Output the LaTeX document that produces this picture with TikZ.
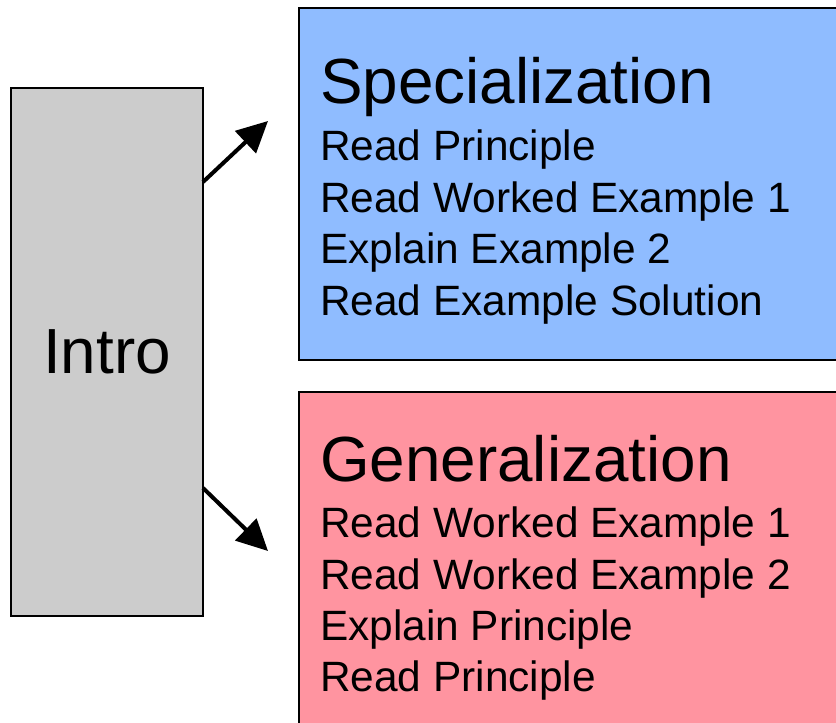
\documentclass[tikz,border=0pt]{standalone}
\usepackage{fontspec}
\setmainfont{Liberation Sans}
\usetikzlibrary{arrows.meta,calc}
\definecolor{specblue}{RGB}{143,188,255}
\definecolor{genred}{RGB}{255,148,160}
\definecolor{introgray}{RGB}{204,204,204}
\begin{document}
\begin{tikzpicture}[x=1pt,y=-1pt,
  box/.style={draw=black, line width=1.5pt, inner sep=0pt, outer sep=0pt, anchor=north west},
  title/.style={anchor=base west, inner sep=0pt, font=\fontsize{63.8}{63.8}\selectfont},
  item/.style={anchor=base west, inner sep=0pt, font=\fontsize{42.4}{42.4}\selectfont},
  link/.style={line width=4pt, -{Triangle[length=31pt,width=30pt]}}]
\useasboundingbox (0,0) rectangle (836,723);
\clip (0,0) rectangle (836,723);
\node[box, fill=introgray, minimum width=192pt, minimum height=528pt] (intro) at (11,88) {};
\node[box, fill=specblue, minimum width=560pt, minimum height=352pt] (specbox) at (299,8) {};
\node[box, fill=genred, minimum width=560pt, minimum height=380pt] (genbox) at (299,392) {};
\node[inner sep=0pt, font=\fontsize{63.8}{63.8}\selectfont] (introlabel) at (intro.center) {Intro};
\node[title] (spec) at (320,103) {Specialization};
\node[item] (s1) at (320,160) {Read Principle};
\node[item] (s2) at (320,212) {Read Worked Example 1};
\node[item] (s3) at (320,263) {Explain Example 2};
\node[item] (s4) at (320,315) {Read Example Solution};
\node[title] (gen) at (320,481) {Generalization};
\node[item] (g1) at (320,537) {Read Worked Example 1};
\node[item] (g2) at (320,589) {Read Worked Example 2};
\node[item] (g3) at (320,640) {Explain Principle};
\node[item] (g4) at (320,691) {Read Principle};
\coordinate (tip1) at (268,121);
\coordinate (tip2) at (268,551);
\draw[link] ($(intro.east)+(0,-170)$) -- (tip1);
\draw[link] ($(intro.east)+(0,136)$) -- (tip2);
\end{tikzpicture}
\end{document}
